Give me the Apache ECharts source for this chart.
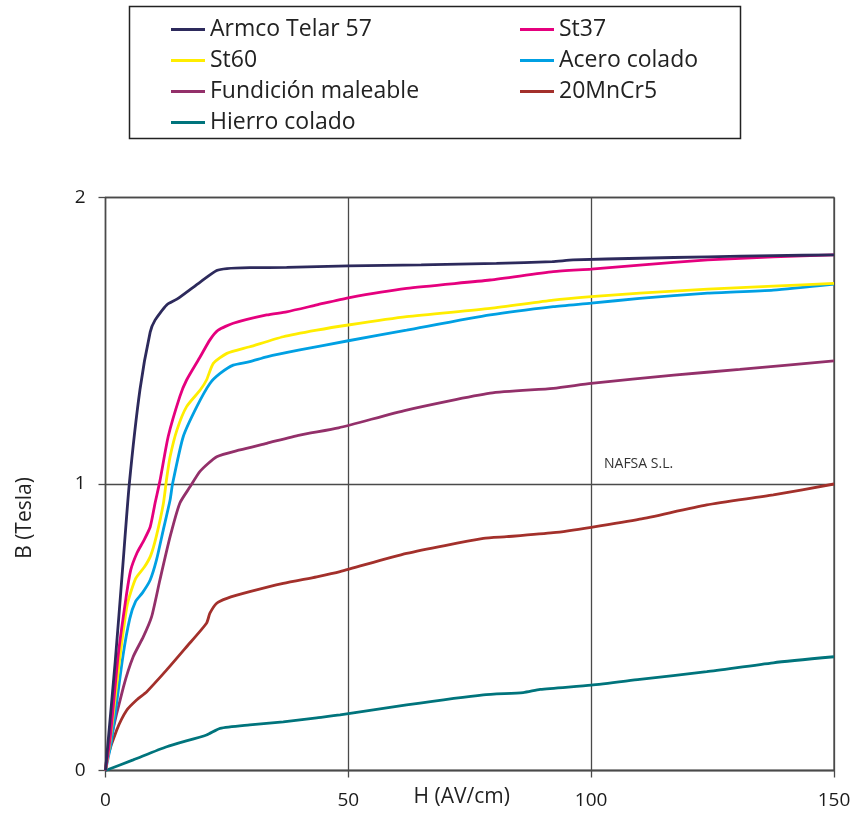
<!DOCTYPE html>
<html><head><meta charset="utf-8">
<script src="https://cdn.jsdelivr.net/npm/echarts@6/dist/echarts.min.js"></script>
<style>html,body{margin:0;padding:0;background:#fff}#c{width:855px;height:814px}</style>
</head><body><div id="c"></div>
<script>
const seriesNames = ['Armco Telar 57','St37','St60','Acero colado','Fundición maleable','20MnCr5','Hierro colado'];
const xTicks = [0,50,100,150];
const yTicks = [0,1,2];

const H_armco = [0, 2, 3.5, 4.9, 7.1, 9.2, 10.2, 12.6, 14.7, 19.5, 22.9, 25, 29.7, 37.3, 50, 65, 80.5, 92, 96.3, 110, 124, 137.5, 150];
const B_armco = [0, 0.38, 0.70, 1.0, 1.33, 1.53, 1.572, 1.625, 1.645, 1.705, 1.745, 1.752, 1.755, 1.756, 1.761, 1.765, 1.77, 1.776, 1.782, 1.788, 1.793, 1.797, 1.80];

const H_st37 = [0, 1, 2.6, 4.2, 5.2, 6.5, 7.8, 9.2, 10.2, 11.2, 12.9, 15.3, 16.7, 19.5, 21.5, 23.2, 26.3, 33.2, 37.3, 43.5, 50, 62, 79.2, 92.2, 100, 110, 124, 137.5, 150];
const B_st37 = [0, 0.12, 0.40, 0.60, 0.70, 0.76, 0.80, 0.85, 0.933, 1.01, 1.165, 1.305, 1.363, 1.444, 1.503, 1.537, 1.561, 1.59, 1.601, 1.625, 1.65, 1.683, 1.712, 1.741, 1.75, 1.764, 1.782, 1.793, 1.80];

const H_st60 = [0, 1, 3.0, 4.5, 6.2, 8.0, 9.3, 10.5, 11.9, 12.6, 13.3, 14.7, 16.7, 19.5, 20.8, 22.2, 25, 29.7, 36.6, 43.5, 50, 62, 79.2, 92.2, 100, 110, 124, 137.5, 150];
const B_st60 = [0, 0.11, 0.40, 0.58, 0.67, 0.71, 0.75, 0.82, 0.93, 1.02, 1.095, 1.188, 1.27, 1.328, 1.363, 1.421, 1.456, 1.479, 1.514, 1.537, 1.555, 1.584, 1.613, 1.642, 1.654, 1.666, 1.68, 1.691, 1.70];

const H_acero = [0, 1.2, 3.6, 5.0, 6.2, 7.6, 9.2, 10.5, 11.9, 13.3, 13.8, 16, 18.8, 21.5, 23.6, 26.3, 29.7, 33.2, 40, 50, 62, 79.2, 92.2, 100, 110, 124, 137.5, 150];
const B_acero = [0, 0.10, 0.40, 0.53, 0.59, 0.62, 0.665, 0.735, 0.84, 0.944, 1.0, 1.165, 1.27, 1.351, 1.386, 1.415, 1.427, 1.444, 1.468, 1.50, 1.537, 1.59, 1.619, 1.631, 1.648, 1.666, 1.677, 1.698];

const H_fund = [0, 0.9, 3.7, 5.7, 7.8, 9.5, 11.2, 13.3, 15.3, 17.4, 19.5, 22.9, 27.7, 33.2, 40, 48, 62, 79.2, 92.2, 100, 117, 130.6, 150];
const B_fund = [0, 0.095, 0.292, 0.397, 0.467, 0.537, 0.665, 0.816, 0.933, 0.99, 1.045, 1.095, 1.119, 1.142, 1.171, 1.196, 1.258, 1.317, 1.334, 1.351, 1.38, 1.40, 1.43];

const H_mncr = [0, 0.25, 2.3, 4.4, 6.4, 8.5, 12.6, 16.7, 20.8, 21.5, 22.9, 25, 29.7, 36.6, 43.5, 48.3, 62, 77.8, 82.6, 92.2, 100, 110, 123.8, 137.5, 150];
const B_mncr = [0, 0.037, 0.141, 0.211, 0.246, 0.275, 0.351, 0.432, 0.514, 0.549, 0.584, 0.601, 0.624, 0.653, 0.676, 0.694, 0.758, 0.81, 0.816, 0.83, 0.849, 0.877, 0.927, 0.962, 1.0];

const H_hierro = [0, 5.7, 12.6, 20.8, 23.6, 29.7, 36.6, 43.5, 48.3, 62, 77.8, 86, 89.5, 100, 110, 123.8, 137.5, 150];
const B_hierro = [0, 0.037, 0.083, 0.124, 0.147, 0.159, 0.170, 0.184, 0.194, 0.229, 0.264, 0.272, 0.283, 0.298, 0.318, 0.345, 0.376, 0.397];

const colors = ['#2d2a5c','#e5007e','#ffed00','#00a0e3','#93306a','#a3302b','#00747c'];
const Hs = [H_armco,H_st37,H_st60,H_acero,H_fund,H_mncr,H_hierro];
const Bs = [B_armco,B_st37,B_st60,B_acero,B_fund,B_mncr,B_hierro];

const FONT = 'Open Sans';
const chart = echarts.init(document.getElementById('c'), null, {renderer:'canvas'});
const series = seriesNames.map((n,i)=>({
  name:n, type:'line', showSymbol:false, symbol:'none', smooth:0.2,
  data: Hs[i].map((h,k)=>[h,Bs[i][k]]),
  lineStyle:{color:colors[i], width:2.8}, itemStyle:{color:colors[i]},
  z: 10 - i
}));
const legendCommon = {
  orient:'vertical', icon:'rect', itemWidth:34, itemHeight:3, itemGap:6,
  textStyle:{fontFamily:FONT, fontSize:23, color:'#222', lineHeight:25},
  selectedMode:false
};
chart.setOption({
  animation:false,
  grid:{left:105.5, right:21, top:197.5, bottom:43.5, show:true, borderColor:'#4a4a4a', borderWidth:1.3,
        containLabel:false, outerBoundsMode:'none'},
  legend:[
    Object.assign({}, legendCommon, {left:166, top:12, data:[seriesNames[0],seriesNames[2],seriesNames[4],seriesNames[6]]}),
    Object.assign({}, legendCommon, {left:515, top:12, data:[seriesNames[1],seriesNames[3],seriesNames[5]]})
  ],
  xAxis:{type:'value', min:xTicks[0], max:xTicks[xTicks.length-1], interval:50,
    name:'H (AV/cm)', nameLocation:'middle', nameGap:16, nameMoveOverlap:false,
    nameTextStyle:{fontFamily:FONT, fontSize:21, color:'#222', padding:[0,16,0,0]},
    axisLine:{show:true, lineStyle:{color:'#4a4a4a', width:1.3}},
    axisTick:{show:true, length:7, lineStyle:{color:'#4a4a4a', width:1.3}},
    axisLabel:{fontFamily:FONT, fontSize:19, color:'#1a1a1a', margin:21},
    splitLine:{show:true, lineStyle:{color:'#4a4a4a', width:1.3}}
  },
  yAxis:{type:'value', min:yTicks[0], max:yTicks[yTicks.length-1], interval:1,
    name:'B (Tesla)', nameLocation:'middle', nameGap:70, nameMoveOverlap:false,
    nameTextStyle:{fontFamily:FONT, fontSize:21, color:'#222', padding:[0,68,0,0]},
    axisLine:{show:true, lineStyle:{color:'#4a4a4a', width:1.3}},
    axisTick:{show:true, length:7, lineStyle:{color:'#4a4a4a', width:1.3}},
    axisLabel:{fontFamily:FONT, fontSize:19, color:'#1a1a1a', margin:20},
    splitLine:{show:true, lineStyle:{color:'#4a4a4a', width:1.3}}
  },
  graphic:[
    {type:'rect', left:127, top:4, shape:{x:0,y:0,width:611,height:132}, style:{fill:'none', stroke:'#222', lineWidth:1.5}, z:0},
    {type:'text', left:604, top:457, style:{text:'NAFSA S.L.', fontFamily:FONT, fontSize:14, fill:'#333'}}
  ],
  series: series
});
</script></body></html>
